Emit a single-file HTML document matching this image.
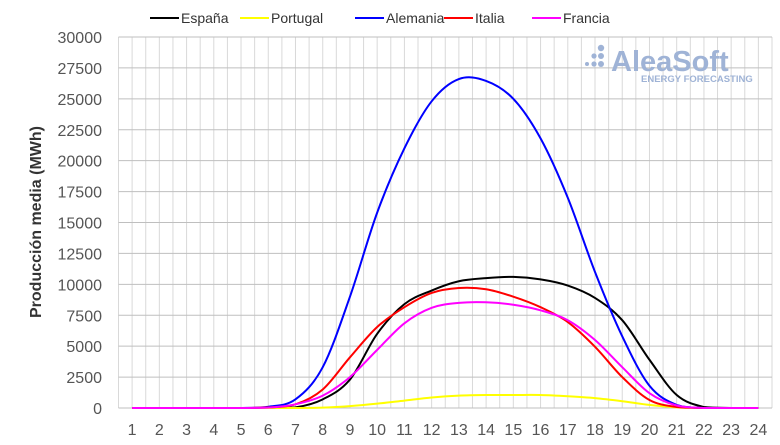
<!DOCTYPE html>
<html><head><meta charset="utf-8"><style>
body{margin:0;background:#fff;}
svg{font-family:"Liberation Sans",sans-serif;}
</style></head><body>
<svg id="chart" width="780" height="440">
<g id="grid"></g>
<g id="yticks"></g>
<g id="xticks"></g>
<text transform="translate(41,222) rotate(-90)" text-anchor="middle" font-size="16" font-weight="bold" fill="#333">Producción media (MWh)</text>
<g>
<circle cx="601" cy="48" r="3.2" fill="#9fb3d6"/><circle cx="594" cy="56" r="2.6" fill="#9fb3d6"/><circle cx="601" cy="56" r="3" fill="#9fb3d6"/><circle cx="587" cy="64" r="2" fill="#9fb3d6"/><circle cx="594" cy="64" r="2.6" fill="#9fb3d6"/><circle cx="601" cy="64" r="3" fill="#9fb3d6"/>
<text x="611" y="71" font-size="29" font-weight="bold" fill="#9fb3d6">AleaSoft</text>
<text x="641" y="82" font-size="9.5" font-weight="bold" fill="#9fb3d6">ENERGY FORECASTING</text>
</g>
<g id="series"></g>
<g id="legend"></g>
</svg>
<script>
const hours=[1,2,3,4,5,6,7,8,9,10,11,12,13,14,15,16,17,18,19,20,21,22,23,24];
const espana=[0,0,0,0,0,0,50,700,2300,6000,8400,9500,10250,10500,10600,10400,9900,8900,7100,3900,1050,80,0,0];
const portugal=[0,0,0,0,0,0,0,30,150,350,600,850,1000,1050,1050,1050,950,800,550,250,50,0,0,0];
const alemania=[0,0,0,0,0,100,700,3300,9000,15800,21000,24800,26600,26450,25000,21800,17000,11000,5800,1800,250,0,0,0];
const italia=[0,0,0,0,0,50,300,1500,4100,6550,8150,9300,9700,9600,9000,8150,6950,4950,2500,650,80,0,0,0];
const francia=[0,0,0,0,0,30,300,1000,2500,4700,6850,8100,8500,8550,8350,7900,7100,5500,3300,1200,200,0,0,0];
const yTicks=[0,2500,5000,7500,10000,12500,15000,17500,20000,22500,25000,27500,30000];
const seriesNames=["España","Portugal","Alemania","Italia","Francia"];
const seriesColors=["#000000","#ffff00","#0000ff","#ff0000","#ff00ff"];
const seriesData=[espana,portugal,alemania,italia,francia];

const NS="http://www.w3.org/2000/svg";
const x0=118.5,x1=772,y0=408,y1=37;
const X=v=>x0+(v-0.5)/24*(x1-x0);
const Y=v=>y0-v/30000*(y0-y1);
function mk(tag,attrs,parent){const e=document.createElementNS(NS,tag);for(const k in attrs)e.setAttribute(k,attrs[k]);parent.appendChild(e);return e;}
const grid=document.getElementById('grid');
for(let i=0;i<=48;i++){const gx=X(0.5+i*0.5);
const l=mk('line',{x1:gx,x2:gx,y1:y1,y2:y0,stroke:'#d9d9d9','stroke-width':1},grid);

}
const yt=document.getElementById('yticks');
yTicks.forEach(t=>{const gy=Y(t);
const l=mk('line',{x1:x0,x2:x1,y1:gy,y2:gy,stroke:'#bfbfbf','stroke-width':1},grid);


const tx=mk('text',{x:102,y:gy+6,'text-anchor':'end','font-size':16,fill:'#555'},yt);tx.textContent=t;

});
const xt=document.getElementById('xticks');
hours.forEach(h=>{const tx=mk('text',{x:X(h),y:435,'text-anchor':'middle','font-size':16,fill:'#555'},xt);tx.textContent=h;

});
function smooth(pts){let d=`M${pts[0][0]},${pts[0][1]}`;
for(let i=0;i<pts.length-1;i++){const p0=pts[Math.max(0,i-1)],p1=pts[i],p2=pts[i+1],p3=pts[Math.min(pts.length-1,i+2)];
const c1=[p1[0]+(p2[0]-p0[0])/6,p1[1]+(p2[1]-p0[1])/6],c2=[p2[0]-(p3[0]-p1[0])/6,p2[1]-(p3[1]-p1[1])/6];
d+=` C${c1[0]},${Math.min(y0,c1[1])} ${c2[0]},${Math.min(y0,c2[1])} ${p2[0]},${p2[1]}`;}return d;}
const sg=document.getElementById('series');
[0,1,2,3,4].forEach(si=>{const pts=hours.map((h,i)=>[X(h),Y(seriesData[si][i])]);
const p=mk('path',{d:smooth(pts),fill:'none',stroke:seriesColors[si],'stroke-width':2},sg);

});
const lg=document.getElementById('legend');
const lx=[150,240,355,444,532];
seriesNames.forEach((n,i)=>{
const l=mk('line',{x1:lx[i],x2:lx[i]+29,y1:18,y2:18,stroke:seriesColors[i],'stroke-width':2},lg);


const t=mk('text',{x:lx[i]+31,y:23,'font-size':14,fill:'#333'},lg);t.textContent=n;

});
</script>
</body></html>
